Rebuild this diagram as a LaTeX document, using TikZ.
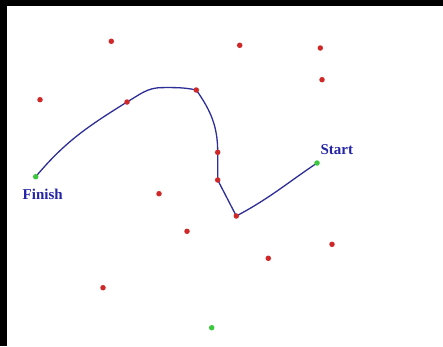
\documentclass[tikz,border=0pt]{standalone}
\usepackage{fontspec}
\setmainfont{Liberation Serif}
\definecolor{dotred}{HTML}{D02828}
\definecolor{dotgreen}{HTML}{3CC83C}
\definecolor{routeblue}{HTML}{2E2E98}
\definecolor{labelblue}{HTML}{2424A8}
\pgfdeclarelayer{back}
\pgfdeclarelayer{mid}
\pgfsetlayers{back,mid,main}
\tikzset{
  reddot/.style={circle,fill=dotred,inner sep=0pt,minimum size=5.5pt},
  greendot/.style={circle,fill=dotgreen,inner sep=0pt,minimum size=5.5pt},
  route/.style={routeblue,line width=1.3pt,line cap=round,line join=round},
  lbl/.style={text=labelblue,font=\fontsize{15}{18}\selectfont\bfseries,inner sep=0pt,anchor=base}
}
\begin{document}
\begin{tikzpicture}[x=1pt,y=-1pt]
\useasboundingbox (0,0) rectangle (443,346);
% frame
\begin{pgfonlayer}{back}
\fill[black] (0,0) rectangle (443,346);
\fill[white] (7,6) rectangle (443,346);
\end{pgfonlayer}
% scattered points
\node[reddot] (r1) at (111.3,41.3) {};
\node[reddot] (r2) at (239.7,45.3) {};
\node[reddot] (r3) at (320.3,48) {};
\node[reddot] (r4) at (322,79.7) {};
\node[reddot] (r5) at (40,99.7) {};
\node[reddot] (r6) at (159,193.7) {};
\node[reddot] (r7) at (187,231.3) {};
\node[reddot] (r8) at (332,244.3) {};
\node[reddot] (r9) at (268.3,258.3) {};
\node[reddot] (r10) at (103,287.7) {};
% points on the route
\node[reddot] (w1) at (127,102) {};
\node[reddot] (w2) at (196.3,90) {};
\node[reddot] (w3) at (217.7,152.3) {};
\node[reddot] (w4) at (217.7,180) {};
\node[reddot] (w5) at (236.3,216) {};
\coordinate (crest) at (162,87.6);
% green points
\node[greendot] (start) at (317,163) {};
\node[greendot] (finish) at (35.7,176.7) {};
\node[greendot] (g3) at (211.7,327.7) {};
% route
\begin{pgfonlayer}{mid}
\draw[route] (start.center) to[out=214,in=28] (w5.center) -- (w4.center) -- (w3.center)
  to[out=90,in=-55] (w2.center) to[out=168,in=0] (crest) to[out=180,in=30] (w1.center)
  to[out=212,in=50] (finish.center);
\end{pgfonlayer}
% labels
\node[lbl] (finishlbl) at (42.7,199) {Finish};
\node[lbl] (startlbl) at (336.8,154) {Start};
\end{tikzpicture}
\end{document}
